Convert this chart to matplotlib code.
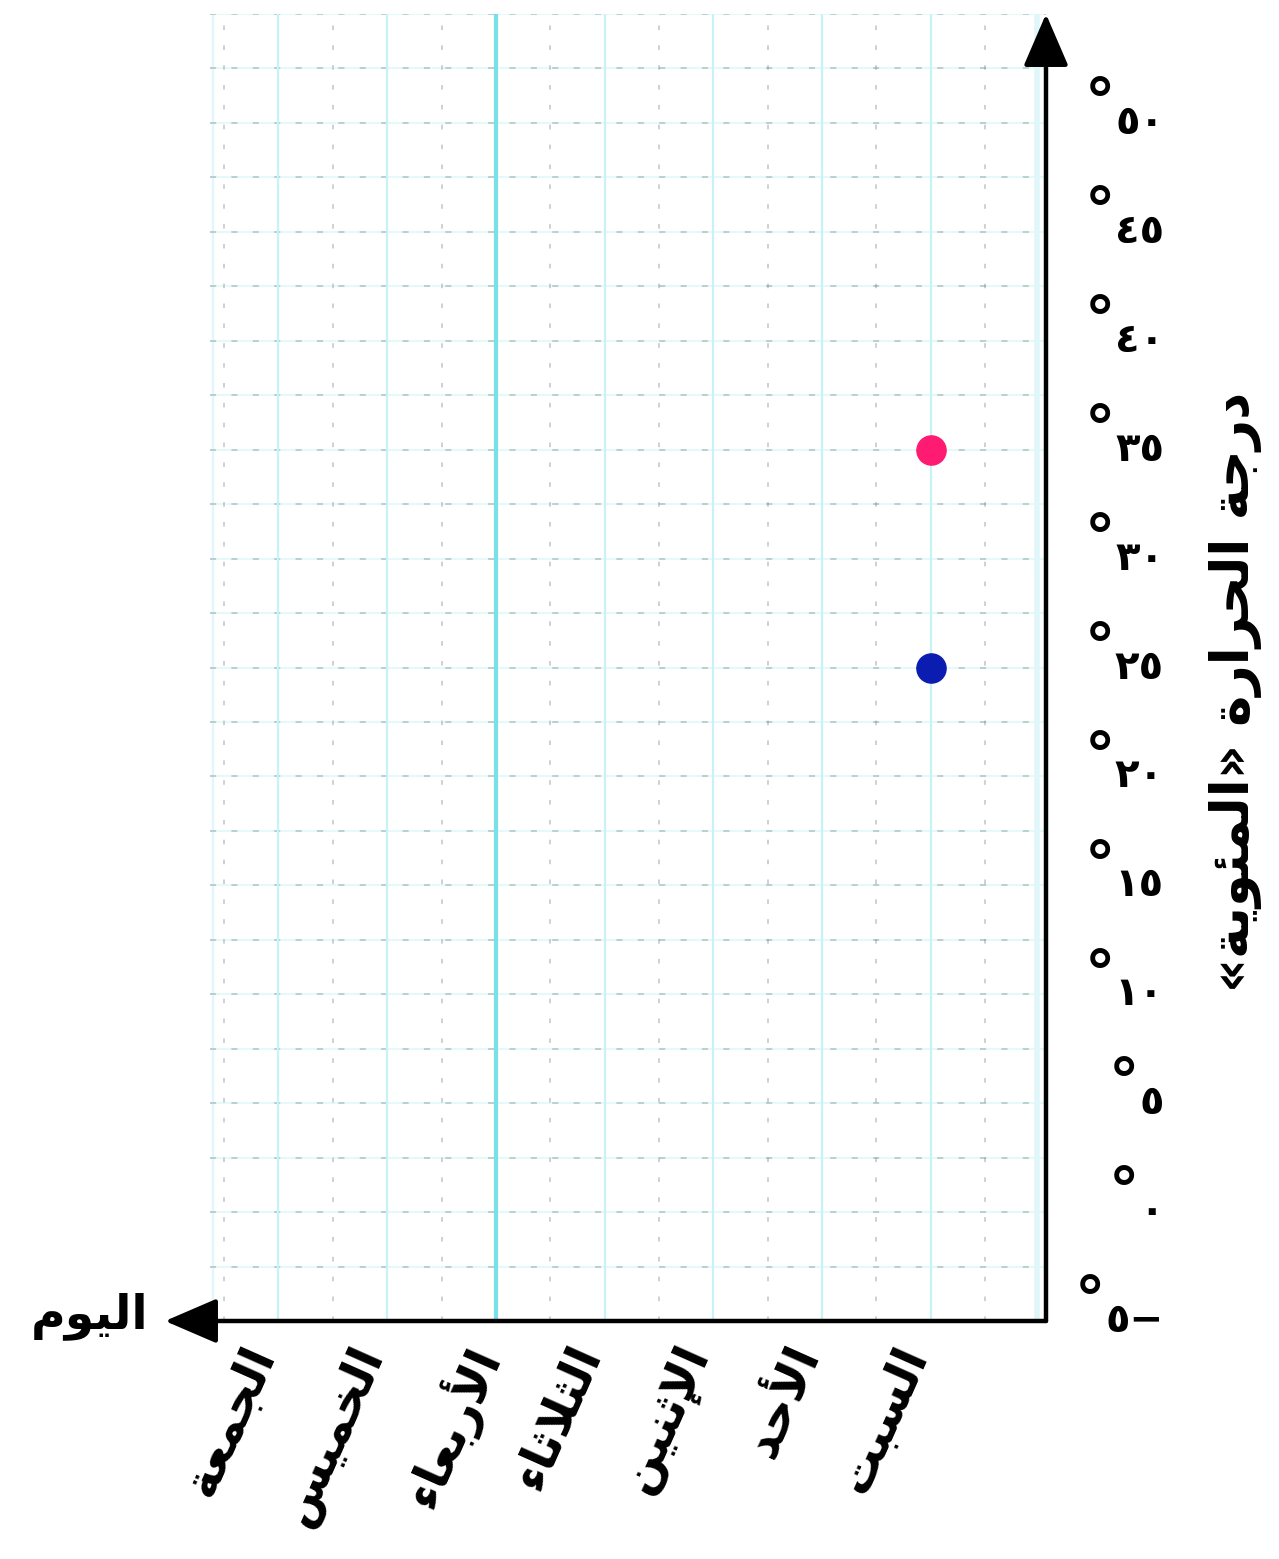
import matplotlib
matplotlib.use("Agg")
import matplotlib.pyplot as plt
import matplotlib.transforms as mtransforms
import numpy as np

# ---------------- data ----------------
days = ['السبت', 'الأحد', 'الإثنين', 'الثلاثاء', 'الأربعاء', 'الخميس', 'الجمعة']
red_days = ['السبت']
red_values = [35]
blue_days = ['السبت']
blue_values = [25]
y_ticks = [-5, 0, 5, 10, 15, 20, 25, 30, 35, 40, 45, 50]
x_title = 'اليوم'
y_title = 'درجة الحرارة «المئوية»'

# ---------------- minimal Arabic shaping (presentation forms) ----------------
FORMS = {
    'ء': ('\uFE80', None, None, None),
    'آ': ('\uFE81', '\uFE82', None, None),
    'أ': ('\uFE83', '\uFE84', None, None),
    'ؤ': ('\uFE85', '\uFE86', None, None),
    'إ': ('\uFE87', '\uFE88', None, None),
    'ئ': ('\uFE89', '\uFE8A', '\uFE8B', '\uFE8C'),
    'ا': ('\uFE8D', '\uFE8E', None, None),
    'ب': ('\uFE8F', '\uFE90', '\uFE91', '\uFE92'),
    'ة': ('\uFE93', '\uFE94', None, None),
    'ت': ('\uFE95', '\uFE96', '\uFE97', '\uFE98'),
    'ث': ('\uFE99', '\uFE9A', '\uFE9B', '\uFE9C'),
    'ج': ('\uFE9D', '\uFE9E', '\uFE9F', '\uFEA0'),
    'ح': ('\uFEA1', '\uFEA2', '\uFEA3', '\uFEA4'),
    'خ': ('\uFEA5', '\uFEA6', '\uFEA7', '\uFEA8'),
    'د': ('\uFEA9', '\uFEAA', None, None),
    'ذ': ('\uFEAB', '\uFEAC', None, None),
    'ر': ('\uFEAD', '\uFEAE', None, None),
    'ز': ('\uFEAF', '\uFEB0', None, None),
    'س': ('\uFEB1', '\uFEB2', '\uFEB3', '\uFEB4'),
    'ع': ('\uFEC9', '\uFECA', '\uFECB', '\uFECC'),
    'ل': ('\uFEDD', '\uFEDE', '\uFEDF', '\uFEE0'),
    'م': ('\uFEE1', '\uFEE2', '\uFEE3', '\uFEE4'),
    'ن': ('\uFEE5', '\uFEE6', '\uFEE7', '\uFEE8'),
    'ه': ('\uFEE9', '\uFEEA', '\uFEEB', '\uFEEC'),
    'و': ('\uFEED', '\uFEEE', None, None),
    'ي': ('\uFEF1', '\uFEF2', '\uFEF3', '\uFEF4'),
    'لآ': ('\uFEF5', '\uFEF6', None, None),
    'لأ': ('\uFEF7', '\uFEF8', None, None),
    'لإ': ('\uFEF9', '\uFEFA', None, None),
    'لا': ('\uFEFB', '\uFEFC', None, None),
}
MIRROR = {'«': '»', '»': '«', '(': ')', ')': '('}


def shape(text):
    toks = []
    i = 0
    while i < len(text):
        c = text[i]
        if c == 'ل' and i + 1 < len(text) and text[i + 1] in 'اأإآ':
            toks.append(c + text[i + 1])
            i += 2
        else:
            toks.append(c)
            i += 1
    out = []
    for k, t in enumerate(toks):
        if t not in FORMS:
            out.append(t)
            continue
        f = FORMS[t]
        prev = toks[k - 1] if k > 0 else None
        nxt = toks[k + 1] if k + 1 < len(toks) else None
        jp = prev in FORMS and FORMS[prev][2] is not None and f[1] is not None
        jn = f[2] is not None and nxt in FORMS and FORMS[nxt][1] is not None
        if jp and jn:
            out.append(f[3])
        elif jp:
            out.append(f[1])
        elif jn:
            out.append(f[2])
        else:
            out.append(f[0])
    vis = ''.join(out)[::-1]
    return ''.join(MIRROR.get(ch, ch) for ch in vis)


AR_DIGITS = '٠١٢٣٤٥٦٧٨٩'


def ar_num(v):
    s = ''.join(AR_DIGITS[int(d)] for d in str(abs(int(v))))
    return s + ('\u2212' if v < 0 else '')


# ---------------- figure ----------------
plt.rcParams['font.family'] = ['DejaVu Sans']
W, H = 1279, 1559
fig = plt.figure(figsize=(W / 100, H / 100), dpi=100)
fig.patch.set_facecolor('white')

ax_l, ax_r, ax_b, ax_t = 210, 1046, 1321, 14
ax = fig.add_axes([ax_l / W, (H - ax_b) / H, (ax_r - ax_l) / W, (ax_b - ax_t) / H])
ax.set_facecolor('white')

x_pos = np.arange(len(days))
ax.set_xlim(6.63, -1.06)
ax.set_ylim(-5, 55)
for s in ax.spines.values():
    s.set_visible(False)

# grid
for xv in np.arange(-0.5, 6.6, 0.5):
    ax.axvline(xv, color='#7f8c8e', lw=1.1, ls=(0, (3, 10)), alpha=0.5, zorder=1)
for yv in np.arange(-2.5, 55.1, 2.5):
    ax.axhline(yv, color='#e6f9fa', lw=1.5, zorder=0.5)
    ax.axhline(yv, color='#7f8c8e', lw=1.1, ls=(0, (4, 10)), alpha=0.5, zorder=1)
for i, xv in enumerate(x_pos):
    strong = days[i] == 'الأربعاء'
    ax.axvline(xv, color='#79e0e8' if strong else '#c8f2f5', lw=3.0 if strong else 1.6, zorder=1.2)
ax.axvline(6.6, color='#dff7f9', lw=1.6, zorder=0.5)
ax.axvline(-0.98, color='#dff7f9', lw=4, zorder=0.5)

# points
ax.plot([days.index(d) for d in red_days], red_values, 'o', color='#ff1a72', ms=21, zorder=5)
ax.plot([days.index(d) for d in blue_days], blue_values, 'o', color='#0b1db0', ms=21, zorder=5)

# x tick labels (days)
ax.set_xticks(x_pos)
ax.set_xticklabels([shape(d) for d in days], fontsize=35, fontweight='bold',
                   rotation=66, ha='right', va='top', rotation_mode='anchor')
ax.tick_params(axis='x', length=0, pad=12)
off = mtransforms.ScaledTranslation(-38 / 100, 0, fig.dpi_scale_trans)
for lab in ax.get_xticklabels():
    lab.set_transform(lab.get_transform() + off)
ax.set_yticks([])

# y tick labels on the right with degree signs
trans = mtransforms.blended_transform_factory(ax.transAxes, ax.transData)
x_lab = 1 + (1164 - ax_r) / (ax_r - ax_l)
for v in y_ticks:
    t = ax.text(x_lab, v, ar_num(v), transform=trans, ha='right', va='center',
                fontsize=29, fontweight='bold', clip_on=False)
    ax.annotate('°', xy=(0, 1), xycoords=t, xytext=(-11, -2), textcoords='offset points',
                ha='center', va='center', fontsize=44, fontweight='bold', annotation_clip=False)

# axes arrows
ax.annotate('', xy=(1.0, 1.0), xytext=(1.0, 0.0), xycoords='axes fraction',
            arrowprops=dict(arrowstyle='-|>,head_length=0.65,head_width=0.28', lw=3.2,
                            color='black', mutation_scale=50, shrinkA=0, shrinkB=0),
            annotation_clip=False, zorder=6)
x_tip = (165 - ax_l) / (ax_r - ax_l)
ax.annotate('', xy=(x_tip, 0.0), xytext=(1.0, 0.0), xycoords='axes fraction',
            arrowprops=dict(arrowstyle='-|>,head_length=0.65,head_width=0.28', lw=3.2,
                            color='black', mutation_scale=50, shrinkA=0, shrinkB=0),
            annotation_clip=False, zorder=6)

# axis titles
fig.text(148 / W, 1 - 1316 / H, shape(x_title), ha='right', va='center',
         fontsize=34, fontweight='bold')
fig.text(1236 / W, 1 - 692 / H, shape(y_title), ha='center', va='center',
         rotation=90, fontsize=38, fontweight='bold')

fig.savefig('out.png', dpi=100, facecolor='white')
